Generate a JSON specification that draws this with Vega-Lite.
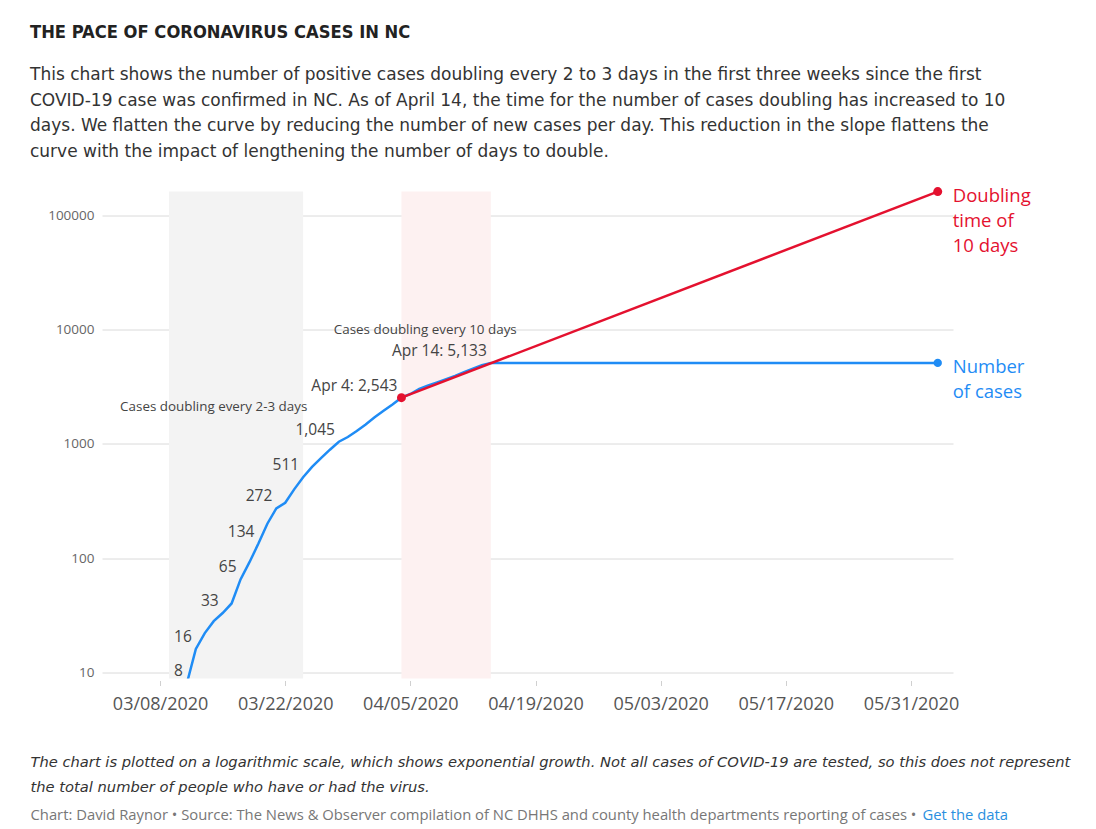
{
  "$schema": "https://vega.github.io/schema/vega-lite/v6.json",
  "width": 851,
  "height": 487,
  "autosize": {"type": "none"},
  "padding": {"left": 102, "top": 191.5, "right": 143, "bottom": 150.5},
  "background": "white",
  "title": {
    "text": "THE PACE OF CORONAVIRUS CASES IN NC",
    "subtitle": [
      "This chart shows the number of positive cases doubling every 2 to 3 days in the first three weeks since the first",
      "COVID-19 case was confirmed in NC. As of April 14, the time for the number of cases doubling has increased to 10",
      "days. We flatten the curve by reducing the number of new cases per day. This reduction in the slope flattens the",
      "curve with the impact of lengthening the number of days to double."
    ],
    "anchor": "start",
    "frame": "group",
    "dx": -72,
    "offset": 26,
    "font": "DejaVu Sans Condensed",
    "fontSize": 18.2,
    "fontWeight": "bold",
    "color": "#222222",
    "subtitleFont": "DejaVu Sans",
    "subtitleFontSize": 17,
    "subtitleColor": "#333333",
    "subtitleLineHeight": 25.4,
    "subtitlePadding": 25
  },
  "datasets": {
    "cases": [
      {"date": "2020-03-11", "cases": 8, "label": "8"},
      {"date": "2020-03-12", "cases": 16, "label": "16"},
      {"date": "2020-03-13", "cases": 22, "label": ""},
      {"date": "2020-03-14", "cases": 28, "label": ""},
      {"date": "2020-03-15", "cases": 33, "label": "33"},
      {"date": "2020-03-16", "cases": 40, "label": ""},
      {"date": "2020-03-17", "cases": 65, "label": "65"},
      {"date": "2020-03-18", "cases": 92, "label": ""},
      {"date": "2020-03-19", "cases": 134, "label": "134"},
      {"date": "2020-03-20", "cases": 200, "label": ""},
      {"date": "2020-03-21", "cases": 272, "label": "272"},
      {"date": "2020-03-22", "cases": 305, "label": ""},
      {"date": "2020-03-23", "cases": 400, "label": ""},
      {"date": "2020-03-24", "cases": 511, "label": "511"},
      {"date": "2020-03-25", "cases": 630, "label": ""},
      {"date": "2020-03-26", "cases": 750, "label": ""},
      {"date": "2020-03-27", "cases": 890, "label": ""},
      {"date": "2020-03-28", "cases": 1045, "label": "1,045"},
      {"date": "2020-03-29", "cases": 1150, "label": ""},
      {"date": "2020-03-30", "cases": 1300, "label": ""},
      {"date": "2020-03-31", "cases": 1480, "label": ""},
      {"date": "2020-04-01", "cases": 1710, "label": ""},
      {"date": "2020-04-02", "cases": 1950, "label": ""},
      {"date": "2020-04-03", "cases": 2220, "label": ""},
      {"date": "2020-04-04", "cases": 2543, "label": "Apr 4: 2,543"},
      {"date": "2020-04-05", "cases": 2740, "label": ""},
      {"date": "2020-04-06", "cases": 3040, "label": ""},
      {"date": "2020-04-07", "cases": 3250, "label": ""},
      {"date": "2020-04-08", "cases": 3460, "label": ""},
      {"date": "2020-04-09", "cases": 3690, "label": ""},
      {"date": "2020-04-10", "cases": 3950, "label": ""},
      {"date": "2020-04-11", "cases": 4250, "label": ""},
      {"date": "2020-04-12", "cases": 4570, "label": ""},
      {"date": "2020-04-13", "cases": 4900, "label": ""},
      {"date": "2020-04-14", "cases": 5133, "label": "Apr 14: 5,133"},
      {"date": "2020-06-03", "cases": 5133, "label": ""}
    ],
    "doubling": [
      {"date": "2020-04-04", "cases": 2543},
      {"date": "2020-06-03", "cases": 162752}
    ],
    "bluedot": [
      {"date": "2020-06-03", "cases": 5133}
    ],
    "bands": [
      {"start": "2020-03-09", "end": "2020-03-24", "band": "gray"},
      {"start": "2020-04-04", "end": "2020-04-14", "band": "pink"}
    ],
    "notes": [
      {"date": "2020-03-14", "cases": 2115, "text": "Cases doubling every 2-3 days"},
      {"date": "2020-04-06T16:00:00Z", "cases": 10000, "text": "Cases doubling every 10 days"}
    ],
    "redlabel": [
      {"date": "2020-06-03", "cases": 162752, "text": ["Doubling", "time of", "10 days"]}
    ],
    "bluelabel": [
      {"date": "2020-06-03", "cases": 5133, "text": ["Number", "of cases"]}
    ]
  },
  "config": {
    "view": {"stroke": null},
    "font": "Open Sans",
    "axis": {"domain": false, "grid": false, "labelFont": "Open Sans"}
  },
  "resolve": {"axis": {"x": "independent", "y": "independent"}},
  "layer": [
    {
      "data": {"name": "bands"},
      "mark": {"type": "rect"},
      "encoding": {
        "x": {
          "field": "start", "type": "temporal",
          "scale": {"type": "utc", "domain": ["2020-03-01T12:00:00Z", "2020-06-04T17:00:00Z"], "nice": false},
          "axis": {
            "orient": "bottom",
            "values": [1583625600000, 1584835200000, 1586044800000, 1587254400000, 1588464000000, 1589673600000, 1590883200000],
            "format": "%m/%d/%Y",
            "grid": false,
            "domain": false,
            "ticks": true,
            "tickColor": "#d0d0d0",
            "tickSize": 5,
            "offset": 2,
            "labelFlush": false,
            "labelFontSize": 18,
            "labelColor": "#555555",
            "labelPadding": 10,
            "title": [
              "The chart is plotted on a logarithmic scale, which shows exponential growth. Not all cases of COVID-19 are tested, so this does not represent",
              "the total number of people who have or had the virus."
            ],
            "titleFont": "DejaVu Sans",
            "titleFontStyle": "italic",
            "titleFontWeight": "normal",
            "titleFontSize": 14.7,
            "titleColor": "#333333",
            "titleAlign": "left",
            "titleBaseline": "top",
            "titleLineHeight": 25,
            "titleX": -72,
            "titleY": 74
          }
        },
        "x2": {"field": "end"},
        "color": {"field": "band", "type": "nominal", "scale": {"domain": ["gray", "pink"], "range": ["#f3f3f3", "#fdf1f1"]}, "legend": null}
      }
    },
    {
      "data": {"name": "cases"},
      "mark": {"type": "line", "color": "#1f8cf5", "strokeWidth": 2.5, "clip": true},
      "encoding": {
        "x": {"field": "date", "type": "temporal", "axis": null},
        "y": {
          "field": "cases", "type": "quantitative",
          "scale": {"type": "log", "domain": [8.8, 163000], "nice": false},
          "axis": {
            "orient": "left",
            "values": [10, 100, 1000, 10000, 100000],
            "format": "d",
            "grid": true,
            "gridColor": "#dadada",
            "gridWidth": 1,
            "ticks": false,
            "domain": false,
            "labelFontSize": 13.5,
            "labelColor": "#666666",
            "labelPadding": 8,
            "title": "Chart: David Raynor • Source: The News & Observer compilation of NC DHHS and county health departments reporting of cases •",
            "titleAngle": 0,
            "titleAlign": "left",
            "titleBaseline": "middle",
            "titleX": -72,
            "titleY": 623.5,
            "titleFont": "Open Sans",
            "titleFontSize": 14.8,
            "titleFontWeight": "normal",
            "titleColor": "#777777"
          }
        }
      }
    },
    {
      "data": {"name": "doubling"},
      "mark": {"type": "line", "color": "#e4112f", "strokeWidth": 2.5},
      "encoding": {
        "x": {"field": "date", "type": "temporal", "axis": null},
        "y": {"field": "cases", "type": "quantitative", "axis": null}
      }
    },
    {
      "data": {"name": "doubling"},
      "mark": {"type": "circle", "size": 80, "opacity": 1, "color": "#e4112f"},
      "encoding": {
        "x": {"field": "date", "type": "temporal", "axis": null},
        "y": {"field": "cases", "type": "quantitative", "axis": null}
      }
    },
    {
      "data": {"name": "cases"},
      "transform": [{"filter": "datum.label != ''"}],
      "mark": {"type": "text", "align": "right", "baseline": "middle", "dx": -4, "dy": -12, "fontSize": 15.5, "color": "#444444", "font": "Open Sans"},
      "encoding": {
        "x": {"field": "date", "type": "temporal", "axis": null},
        "y": {"field": "cases", "type": "quantitative", "axis": null},
        "text": {"field": "label", "type": "nominal"}
      }
    },
    {
      "data": {"name": "notes"},
      "mark": {"type": "text", "align": "center", "baseline": "middle", "fontSize": 13.4, "color": "#444444", "font": "Open Sans"},
      "encoding": {
        "x": {"field": "date", "type": "temporal", "axis": null},
        "y": {"field": "cases", "type": "quantitative", "axis": null},
        "text": {"field": "text", "type": "nominal"}
      }
    },
    {
      "data": {"name": "redlabel"},
      "mark": {"type": "text", "align": "left", "baseline": "top", "dx": 15, "dy": -5, "fontSize": 18.5, "lineHeight": 25, "font": "Open Sans", "color": "#e4112f"},
      "encoding": {
        "x": {"field": "date", "type": "temporal", "axis": null},
        "y": {"field": "cases", "type": "quantitative", "axis": null},
        "text": {"field": "text", "type": "nominal"}
      }
    },
    {
      "data": {"name": "bluelabel"},
      "mark": {"type": "text", "align": "left", "baseline": "top", "dx": 15, "dy": -5, "fontSize": 18.5, "lineHeight": 25, "font": "Open Sans", "color": "#1f8cf5"},
      "encoding": {
        "x": {"field": "date", "type": "temporal", "axis": null},
        "y": {"field": "cases", "type": "quantitative", "axis": null},
        "text": {"field": "text", "type": "nominal"}
      }
    },
    {
      "data": {"name": "bluedot"},
      "mark": {"type": "circle", "size": 70, "opacity": 1, "color": "#1f8cf5"},
      "encoding": {
        "x": {"field": "date", "type": "temporal", "axis": null},
        "y": {
          "field": "cases", "type": "quantitative",
          "axis": {
            "orient": "right",
            "labels": false,
            "ticks": false,
            "domain": false,
            "grid": false,
            "title": "Get the data",
            "titleAngle": 0,
            "titleAlign": "left",
            "titleBaseline": "middle",
            "titleX": -31,
            "titleY": 623.5,
            "titleFont": "Open Sans",
            "titleFontSize": 14.8,
            "titleFontWeight": "normal",
            "titleColor": "#2a8fe0"
          }
        }
      }
    }
  ]
}
